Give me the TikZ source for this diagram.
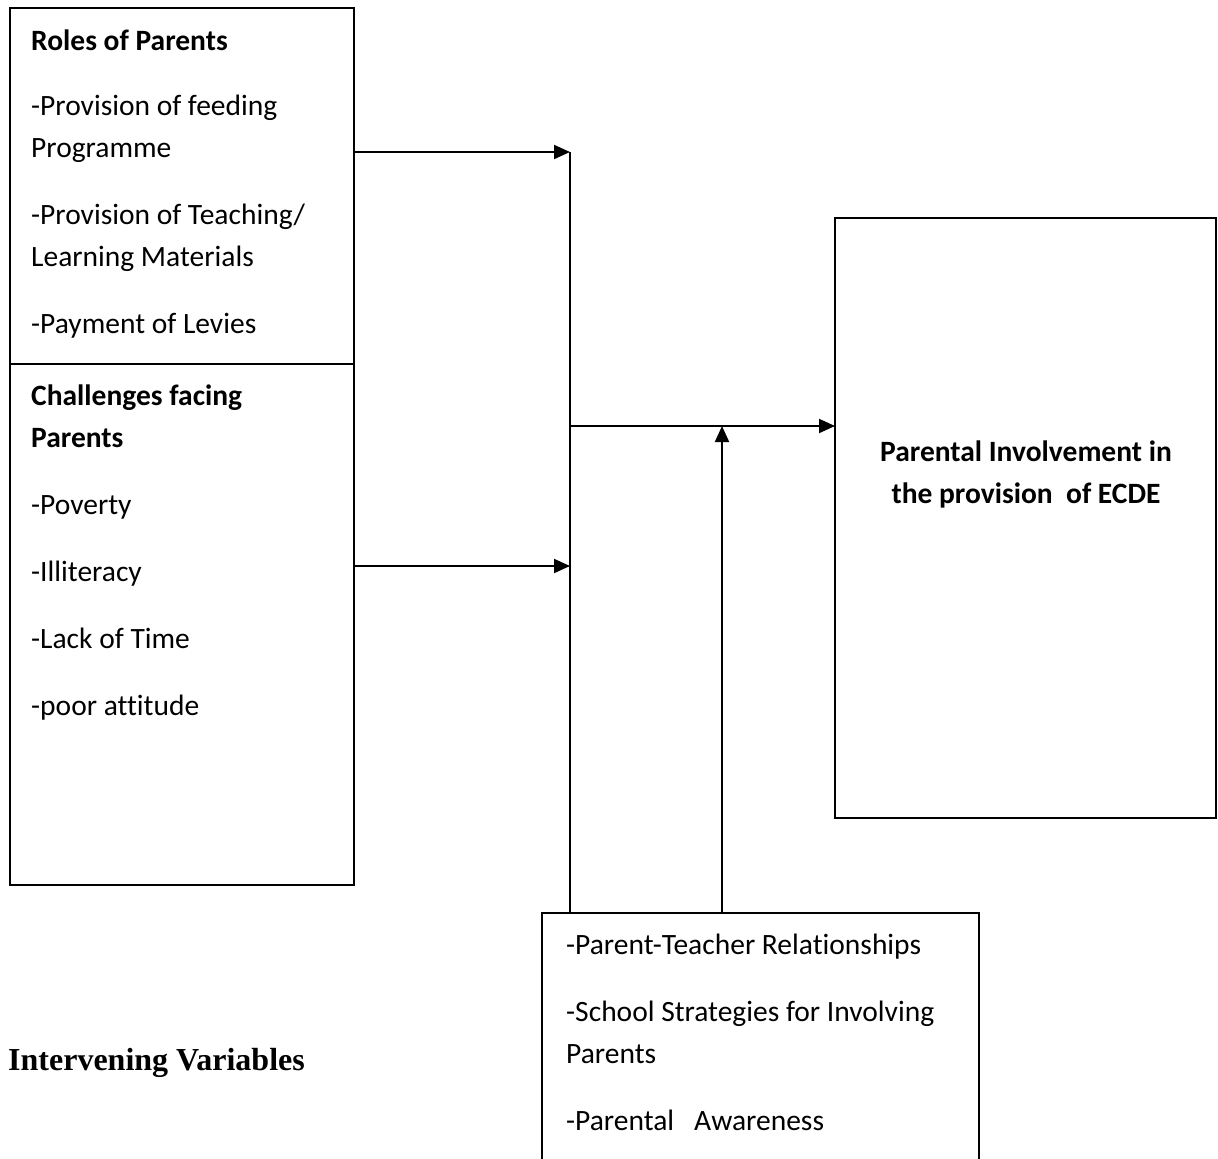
\documentclass[tikz,border=0pt]{standalone}
\usepackage{fontspec}
\setmainfont{Carlito}[Ligatures=NoCommon]
\newfontfamily\timesbold{Liberation Serif}
\usetikzlibrary{positioning,calc}
\usetikzlibrary{arrows.meta}
\tikzset{
	box/.style={draw=black,line width=1.5pt,inner sep=0pt,outer sep=0pt,anchor=north west},
	txt/.style={inner sep=0pt,anchor=base west,align=left,font=\fontsize{29.5}{42}\selectfont},
	link/.style={draw=black,line width=2pt},
	arr/.style={link,-{Triangle[length=16pt,width=14pt]}},
}

\begin{document}
\begin{tikzpicture}[x=1pt,y=-1pt]
	\clip (0,0) rectangle (1218,1159);
	% boxes
	\node[box,minimum width=344pt,minimum height=356pt] (roles) at (10,8) {};
	\node[box,minimum width=344pt,minimum height=521pt] (chal) at (10,364) {};
	\node[box,minimum width=381pt,minimum height=600pt] (ecde) at (835,218) {};
	\node[box,minimum width=437pt,minimum height=300pt] (inter) at (542,913) {};
	% texts (placed by the baseline of their last line)
	\node[txt] (rolestxt) at (31,333) {\textbf{Roles of Parents}\\[23pt]-Provision of feeding\\Programme\\[25pt]-Provision of Teaching/\\Learning Materials\\[25pt]-Payment of Levies};
	\node[txt] (chaltxt) at (31,715) {\textbf{Challenges facing}\\\textbf{Parents}\\[25pt]-Poverty\\[25pt]-Illiteracy\\[25pt]-Lack of Time\\[25pt]-poor attitude};
	\node[txt,align=center,anchor=base] (ecdetxt) at (1026,503) {\textbf{Parental Involvement in}\\\textbf{the provision\ \ of ECDE}};
	\node[txt] (intertxt) at (566,1130) {-Parent-Teacher Relationships\\[25pt]-School Strategies for Involving\\Parents\\[25pt]-Parental\ \ \ Awareness};
	\node[txt,font=\timesbold\bfseries\fontsize{32}{38}\selectfont] (ivlabel) at (8,1070) {Intervening Variables};
	% connectors
	\coordinate (j1) at (570,152);
	\coordinate (j2) at (570,566);
	\coordinate (j3) at (570,426);
	\coordinate (j4) at (722,426);
	\draw[link] (j1) -- (j1 |- inter.north);
	\draw[arr] (roles.east |- j1) -- (j1);
	\draw[arr] (chal.east |- j2) -- (j2);
	\draw[arr] (j3) -- (ecde.west |- j3);
	\draw[arr] (j4 |- inter.north) -- (j4);
\end{tikzpicture}
\end{document}
